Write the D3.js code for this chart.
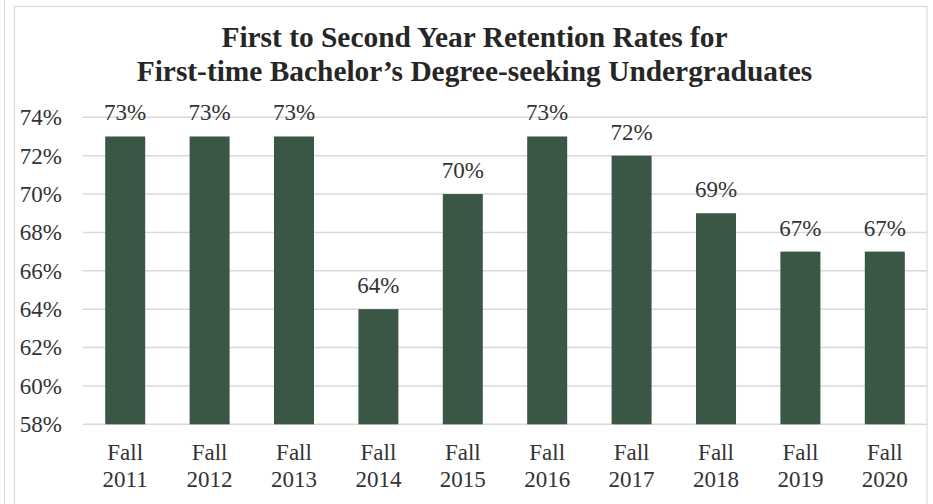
<!DOCTYPE html>
<html><head><meta charset="utf-8">
<script src="https://cdn.jsdelivr.net/npm/d3@7"></script>
<style>html,body{margin:0;padding:0;background:#fff;}svg{display:block;}</style>
</head><body>
<script>
const categories = ["Fall 2011","Fall 2012","Fall 2013","Fall 2014","Fall 2015","Fall 2016","Fall 2017","Fall 2018","Fall 2019","Fall 2020"];
const values = [73,73,73,64,70,73,72,69,67,67];
const yTicks = [58,60,62,64,66,68,70,72,74];
const titleLines = ["First to Second Year Retention Rates for","First-time Bachelor\u2019s Degree-seeking Undergraduates"];

const W = 933, H = 504;
const svg = d3.select("body").append("svg").attr("width", W).attr("height", H);
const font = "'Liberation Serif','Times New Roman',serif";
const txt = "#333333";

// outer frame lines
svg.append("line").attr("x1",4.5).attr("x2",4.5).attr("y1",0).attr("y2",H).attr("stroke","#d9d9d9").attr("stroke-width",1);
svg.append("rect").attr("x",14.5).attr("y",6.5).attr("width",912.5).attr("height",H+10)
  .attr("fill","#fff").attr("stroke","#d9d9d9").attr("stroke-width",1.2);

const x = d3.scaleBand().domain(categories).range([83, 927]).paddingInner(0.526).paddingOuter(0.263);
const y = d3.scaleLinear().domain([58, 74]).range([424.3, 117.3]);

// title
svg.append("text").attr("x", 474.5).attr("y", 47).attr("text-anchor","middle")
  .attr("font-family",font).attr("font-weight","bold").attr("font-size",29.4).attr("fill","#262626")
  .selectAll("tspan").data(titleLines).join("tspan")
  .attr("x",474.5).attr("dy",(d,i)=> i===0?0:33.5).text(d=>d);

// gridlines
svg.append("g").selectAll("line").data(yTicks).join("line")
  .attr("x1",83).attr("x2",927).attr("y1",d=>y(d)).attr("y2",d=>y(d))
  .attr("stroke","#d9d9d9").attr("stroke-width",1.5);

// y axis labels
const yAxis = svg.append("g").attr("transform","translate(83,0)")
  .call(d3.axisLeft(y).tickValues(yTicks).tickSize(0).tickPadding(21).tickFormat(d=>d+"%"));
yAxis.select(".domain").remove();
yAxis.selectAll("text").attr("font-family",font).attr("font-size",23).attr("fill",txt);

// bars
svg.append("g").selectAll("rect").data(values).join("rect")
  .attr("x",(d,i)=>x(categories[i])).attr("width",x.bandwidth())
  .attr("y",d=>y(d)).attr("height",d=>y(58)-y(d))
  .attr("fill","#3a5745");

// value labels
svg.append("g").selectAll("text").data(values).join("text")
  .attr("x",(d,i)=>x(categories[i])+x.bandwidth()/2).attr("y",d=>y(d)-16)
  .attr("text-anchor","middle").attr("font-family",font).attr("font-size",23).attr("fill",txt)
  .text(d=>d+"%");

// x axis labels
const xAxis = svg.append("g").attr("transform","translate(0,424.3)")
  .call(d3.axisBottom(x).tickSize(0).tickFormat(""));
xAxis.select(".domain").remove();
xAxis.selectAll(".tick").each(function(d){
  const parts = d.split(" ");
  const t = d3.select(this).append("text").attr("font-family",font).attr("font-size",23)
    .attr("fill",txt).attr("text-anchor","middle");
  parts.forEach((p,i)=> t.append("tspan").attr("x",0).attr("y",36+i*27).text(p));
});
</script>
</body></html>
